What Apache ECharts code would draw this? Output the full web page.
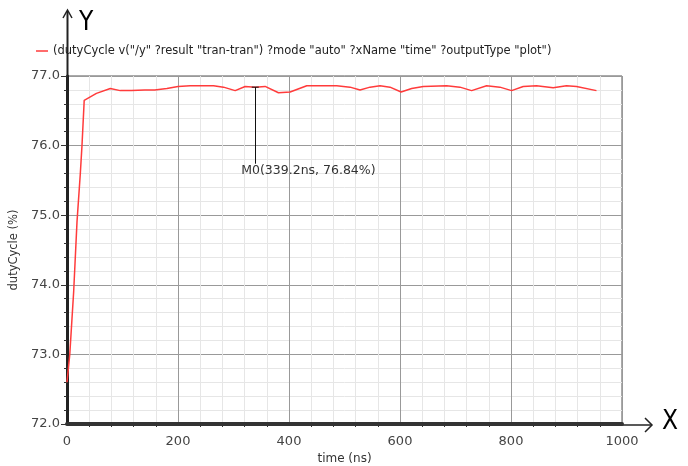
<!DOCTYPE html>
<html>
<head>
<meta charset="utf-8">
<script src="https://cdn.jsdelivr.net/npm/echarts@6/dist/echarts.min.js"></script>
<style>
  html, body { margin: 0; padding: 0; background: #fff; }
  #chart { width: 688px; height: 466px; }
</style>
</head>
<body>
<div id="chart"></div>
<script>
// duty cycle waveform (time in ns, value in %)
const timeNs = [0, 5, 12, 18, 24, 27, 31, 53, 78, 96, 116, 140, 158, 180, 200, 222, 264, 282, 303, 321, 339.2, 357, 381, 402, 432, 486, 510, 528, 546, 564, 582, 602, 621, 642, 684, 708, 729, 756, 780, 801, 822, 846, 876, 900, 918, 954];
const dutyCycle = [72.6, 73.0, 73.9, 74.9, 75.6, 76.0, 76.65, 76.75, 76.82, 76.79, 76.79, 76.80, 76.80, 76.82, 76.85, 76.86, 76.86, 76.84, 76.79, 76.85, 76.84, 76.85, 76.76, 76.77, 76.86, 76.86, 76.84, 76.80, 76.84, 76.86, 76.84, 76.77, 76.82, 76.85, 76.86, 76.84, 76.79, 76.86, 76.84, 76.79, 76.85, 76.86, 76.83, 76.86, 76.85, 76.79];

const xTicks = [0, 200, 400, 600, 800, 1000];
const yTicks = [72, 73, 74, 75, 76, 77];

const markerTime = 339.2;
const markerValue = 76.84;
const markerLabelValue = 75.74;

const seriesName = '(dutyCycle v("/y" ?result "tran-tran") ?mode "auto" ?xName "time" ?outputType "plot")';

// plot box in pixels
const G = { left: 67, top: 76, right: 622, bottom: 424 };

const chart = echarts.init(document.getElementById('chart'));

const option = {
  animation: false,
  textStyle: { fontFamily: 'DejaVu Sans' },
  legend: {
    left: 31, top: 40,
    icon: 'rect', itemWidth: 12, itemHeight: 1.5, itemGap: 6,
    textStyle: { fontSize: 11.5, color: '#222' },
    data: [seriesName]
  },
  grid: {
    left: G.left, top: G.top, right: 688 - G.right, bottom: 466 - G.bottom,
    containLabel: false, outerBoundsMode: 'none',
    show: true, borderColor: '#555', borderWidth: 1
  },
  xAxis: {
    type: 'value',
    min: xTicks[0], max: xTicks[xTicks.length - 1], interval: 200,
    name: 'time (ns)', nameLocation: 'middle', nameGap: 27,
    nameTextStyle: { fontSize: 12, color: '#333' },
    axisLine: { show: true, onZero: false, lineStyle: { color: '#333', width: 4 } },
    axisTick: { show: false },
    minorTick: { show: true, splitNumber: 5, length: 3, lineStyle: { color: '#333' } },
    axisLabel: { fontSize: 13, color: '#444', margin: 11, formatter: (v) => String(v) },
    splitLine: { show: true, lineStyle: { color: '#999', width: 1 } },
    minorSplitLine: { show: true, lineStyle: { color: '#e6e6e6', width: 1 } }
  },
  yAxis: {
    type: 'value',
    min: yTicks[0], max: yTicks[yTicks.length - 1], interval: 1,
    name: 'dutyCycle (%)', nameLocation: 'middle', nameGap: 40,
    nameTextStyle: { fontSize: 11.5, color: '#333' },
    axisLine: { show: true, lineStyle: { color: '#222', width: 3 } },
    axisTick: { show: true, length: 6, lineStyle: { color: '#333' } },
    minorTick: { show: true, splitNumber: 5, length: 3, lineStyle: { color: '#333' } },
    axisLabel: { fontSize: 13, color: '#444', margin: 7, formatter: (v) => v.toFixed(1) },
    splitLine: { show: true, lineStyle: { color: '#999', width: 1 } },
    minorSplitLine: { show: true, lineStyle: { color: '#e6e6e6', width: 1 } }
  },
  series: [{
    name: seriesName,
    type: 'line',
    symbol: 'none',
    smooth: false,
    color: '#ff3b3b',
    lineStyle: { color: '#ff3b3b', width: 1.5 },
    data: timeNs.map((t, i) => [t, dutyCycle[i]]),
    markLine: {
      silent: true,
      symbol: 'none',
      label: { show: false },
      lineStyle: { color: '#111', width: 1, type: 'solid' },
      data: [[{ coord: [markerTime, markerValue] }, { coord: [markerTime, markerLabelValue] }]]
    },
    markPoint: {
      silent: true,
      data: [
        {
          coord: [markerTime, markerValue],
          symbol: 'rect', symbolSize: [7, 1],
          itemStyle: { color: '#111' },
          label: { show: false }
        },
        {
          coord: [markerTime, markerLabelValue],
          symbol: 'rect', symbolSize: 0,
          label: {
            show: true, position: 'inside', align: 'left', verticalAlign: 'middle',
            offset: [-14, 7],
            formatter: 'M0(' + markerTime + 'ns, ' + markerValue + '%)',
            fontSize: 12.5, color: '#333'
          }
        }
      ]
    }
  }],
  graphic: [
    // y axis extension with arrow head
    { type: 'line', shape: { x1: G.left + 0.5, y1: G.top, x2: G.left + 0.5, y2: 11 }, style: { stroke: '#222', lineWidth: 2 } },
    { type: 'polyline', shape: { points: [[G.left - 4, 18], [G.left + 0.5, 10], [G.left + 5, 18]] }, style: { stroke: '#222', lineWidth: 1.5, fill: null } },
    { type: 'text', left: 79, top: 10, style: { text: 'Y', fontSize: 26, fontFamily: 'DejaVu Sans Condensed, DejaVu Sans', fill: '#000' } },
    // x axis extension with arrow head
    { type: 'line', shape: { x1: G.right, y1: G.bottom + 1, x2: 651, y2: G.bottom + 1 }, style: { stroke: '#222', lineWidth: 1.5 } },
    { type: 'polyline', shape: { points: [[645, G.bottom - 6], [652, G.bottom + 1], [645, G.bottom + 8]] }, style: { stroke: '#222', lineWidth: 1.5, fill: null } },
    { type: 'text', left: 662, top: 409, style: { text: 'X', fontSize: 26, fontFamily: 'DejaVu Sans Condensed, DejaVu Sans', fill: '#000' } }
  ]
};

chart.setOption(option);
</script>
</body>
</html>
